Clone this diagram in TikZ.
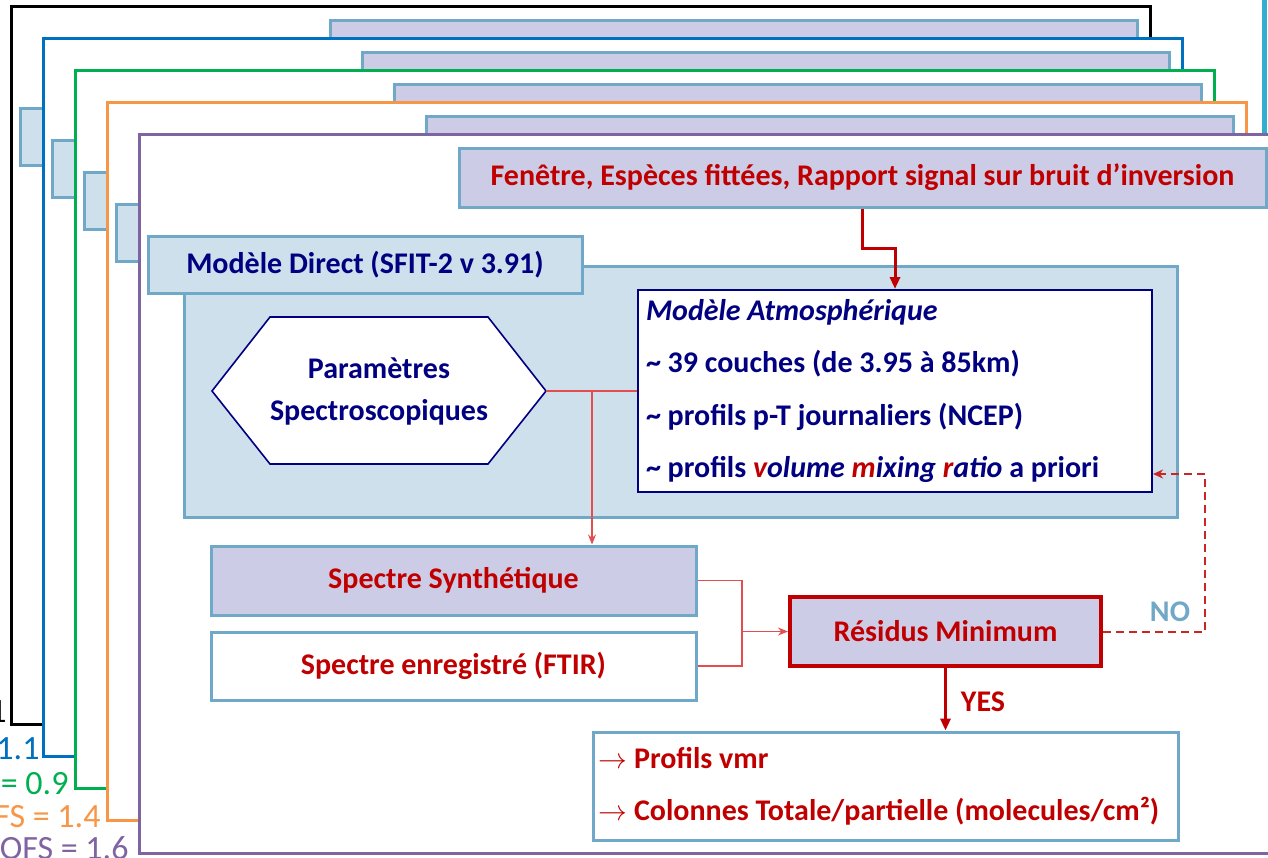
\documentclass[tikz,border=0pt]{standalone}
\usepackage{fontspec}
\setmainfont{Carlito}
\usepackage{xcolor}
\usepackage{tikz}
\usetikzlibrary{arrows.meta,calc}
\definecolor{lavande}{RGB}{204,204,230}
\definecolor{bleuclair}{RGB}{205,224,235}
\definecolor{bord}{RGB}{112,168,200}
\definecolor{marine}{RGB}{0,0,128}
\definecolor{rouge}{RGB}{192,0,0}
\definecolor{rougeclair}{RGB}{226,78,78}
\definecolor{cbleu}{RGB}{0,112,192}
\definecolor{cvert}{RGB}{0,176,80}
\definecolor{corange}{RGB}{247,150,70}
\definecolor{cviolet}{RGB}{128,100,162}
\definecolor{cyanbord}{RGB}{49,174,208}

\begin{document}
\begin{tikzpicture}[x=0.5pt, y=-0.5pt, font=\bfseries\fontsize{15}{18}\selectfont,
    cadre/.style={line width=1.5pt, fill=white},
    titre/.style={draw=bord, line width=1.5pt, fill=lavande, text=rouge},
    bloc/.style={draw=bord, line width=1.5pt, fill=white, text=rouge},
    fin/.style={rougeclair, line width=0.7pt},
    epais/.style={rouge, line width=1.5pt, -{Triangle[length=6pt,width=5pt]}},
    pointille/.style={rouge!85, line width=1pt, dash pattern=on 4pt off 2.5pt, -{Stealth[length=5pt,width=4.5pt]}}]
        \useasboundingbox (0,0) rectangle (1268,857);
        \clip (0,0) rectangle (1268,857);
        \draw[cyanbord, line width=2.5pt] (1264.5,0) -- (1264.5,140);
        \foreach \k/\c in {0/black,1/cbleu,2/cvert,3/corange}{
            \draw[cadre, draw=\c] (11+32*\k,6+32*\k) rectangle (1150+32*\k,724+32*\k);
            \draw[draw=bord, line width=1.5pt, fill=lavande] (330+32*\k,20+32*\k) rectangle (1137+32*\k,79+32*\k);
            \draw[draw=bord, line width=1.5pt, fill=bleuclair] (20+32*\k,108+32*\k) rectangle (454+32*\k,165+32*\k);
        }
        \draw[cadre, draw=cviolet] (139,134) rectangle (1290,853);
        \foreach \k/\c/\v/\xr/\yb in {0/black/1/7/722,1/cbleu/1.1/40/759,2/cvert/0.9/69/794,3/corange/1.4/101/827,4/cviolet/1.6/129/859}
            \node[anchor=base east, inner sep=0pt, text=\c, font=\mdseries\fontsize{17}{20}\selectfont] (dofs\k) at (\xr,\yb) {DOFS = \v};

        \node[titre, minimum width=403.5pt, minimum height=29.5pt] (fenetre) at (862.5,177.5) {Fenêtre, Espèces fittées, Rapport signal sur bruit d'inversion};
        \node[draw=bord, line width=1.5pt, fill=bleuclair, minimum width=496.5pt, minimum height=125.5pt] (panel) at (680.5,391.5) {};
        \node[draw=bord, line width=1.5pt, fill=bleuclair, text=marine, minimum width=217pt, minimum height=28.5pt] (direct) at (365,264.5) {Modèle Direct (SFIT-2 v 3.91)};
        \draw[marine, line width=0.8pt, fill=white] (212,391) -- (270,317) -- (488,317) -- (546,391) -- (488,464) -- (270,464) -- cycle;
        \node[text=marine, align=center, font=\bfseries\fontsize{15}{21}\selectfont] (param) at (379,391) {Paramètres\\Spectroscopiques};
        \node[draw=marine, line width=1pt, fill=white, text=marine, minimum width=257pt, minimum height=101pt, text width=249pt, inner sep=4pt, align=flush left, font=\bfseries\fontsize{15}{26.25}\selectfont] (atmo) at (895,391)
            {\textit{Modèle Atmosphérique}\\
             \textasciitilde{} 39 couches (de 3.95 à 85km)\\
             \textasciitilde{} profils p-T journaliers (NCEP)\\
             \textasciitilde{} profils \textit{\textcolor{rouge}{v}olume \textcolor{rouge}{m}ixing \textcolor{rouge}{r}atio} a priori};
        \node[titre, minimum width=242.5pt, minimum height=34.5pt] (synth) at (453.5,580.5) {Spectre Synthétique};
        \node[bloc, minimum width=242.5pt, minimum height=34pt] (ftir) at (453.5,666) {Spectre enregistré (FTIR)};
        \node[draw=rouge, line width=2pt, fill=lavande, text=rouge, minimum width=155.5pt, minimum height=34.5pt] (residus) at (945.5,631.5) {Résidus Minimum};
        \node[bloc, minimum width=292.5pt, minimum height=54pt, text width=287pt, inner sep=2.75pt, align=flush left, font=\bfseries\fontsize{15}{26}\selectfont] (sortie) at (885.5,786)
            {$\rightarrow$ Profils vmr\\
             $\rightarrow$ Colonnes Totale/partielle (molecules/cm²)};

        \coordinate (pointe) at (546,391);
        \coordinate (branche) at (592,391);
        \coordinate (jonction) at (742,631.5);
        \coordinate (retour) at (1205,474);
        \draw[epais] (fenetre.south) -- ($(fenetre.south)!.5!(fenetre.south |- atmo.north)$) -| (atmo.north);
        \draw[fin] (pointe) -- (atmo.west);
        \draw[fin, -{Stealth[length=5pt,width=4pt]}] (branche) -- (synth.north -| branche);
        \draw[fin] (synth.east) -| (jonction) |- (ftir.east);
        \draw[fin, -{Stealth[length=5pt,width=4pt]}] (jonction) -- (residus.west);
        \draw[pointille] (residus.east) -| (retour) -- (retour -| atmo.east);
        \draw[epais] (residus.south) -- (residus.south |- sortie.north);
        \node[text=bord] (non) at (1170,612) {NO};
        \node[text=rouge] (oui) at (983,702) {YES};
\end{tikzpicture}
\end{document}
